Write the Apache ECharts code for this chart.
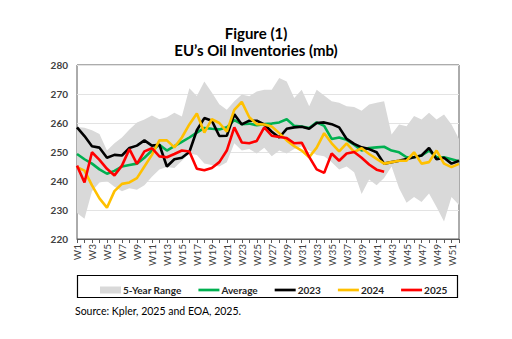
<!DOCTYPE html>
<html>
<head>
<meta charset="utf-8">
<script src="https://cdn.jsdelivr.net/npm/echarts@6/dist/echarts.min.js"></script>
<style>
html,body{margin:0;padding:0;background:#fff;}
#c{width:512px;height:339px;}
</style>
</head>
<body>
<div id="c"></div>
<script>
const weeks = ['W1','W2','W3','W4','W5','W6','W7','W8','W9','W10','W11','W12','W13','W14','W15','W16','W17','W18','W19','W20','W21','W22','W23','W24','W25','W26','W27','W28','W29','W30','W31','W32','W33','W34','W35','W36','W37','W38','W39','W40','W41','W42','W43','W44','W45','W46','W47','W48','W49','W50','W51','W52'];

const rangeLow = [229,227,236.5,239.5,240,238,236.5,237.5,237,238.5,241.5,244,244.8,244.5,247,249.5,249,246,245.5,245,246.5,253,250.5,251,249.5,251.5,248.5,250.5,249.5,251,252,250.5,249,248.5,246.5,244,245,243,235.5,240.5,238.5,241,245,237.5,232.5,234.5,232.8,235.7,231,226,234.5,231.7];

const rangeHigh = [258.6,258.4,257.5,256.2,250.5,253,255,257.8,260.2,261.2,262.6,261.3,262,263.5,262.2,272,269.3,274.3,270.5,266.5,264.6,267.5,269.8,269.2,270.9,271.5,271.5,275.5,274.3,268.6,271.5,265.8,271.5,269.5,267.5,267,265.8,265.5,264.2,266.4,267,267.5,256,259.5,258.9,262.4,261.2,263.5,261.2,262.9,259.5,254.5];

const average = [249.3,247.5,246,244,242.5,243.5,245,245.5,246,248,250.5,252.5,250.5,252,253.5,255,256.7,258.3,258,257.8,258.5,261,259.6,259.8,259.2,259.6,259.8,260.2,261.3,259,258.8,258.3,260.2,259,254.5,255,254.2,252.5,250.5,251.4,251.6,251.8,250.5,249.9,248.2,248.2,248.8,250.5,248.2,248.2,247.5,246.8];

const y2023 = [258.5,255.5,252,251.5,248,249,248.8,251.4,252.2,254,252.2,252.5,245,247.5,248,250,257.5,261.7,260.8,255.5,255.6,263,259.5,260.8,260.8,259.5,257,255,258,258.5,258.7,258,260,260.2,259.6,258.5,254.5,252.8,251.6,251,249.9,246,246.5,247,247.6,248.2,248.8,251.4,247.5,248,246,247];

const y2024 = [244.8,243.6,238.5,234,230.8,236.5,239,239.5,241,245,249,254,254,251.6,255,259.5,263.3,256.7,261.3,260,257,264.5,267.3,262,259.6,259.5,258.8,256.5,254,252,250.5,248.2,251.5,256.5,253,250.2,253,250,251.3,249.3,247.6,246,246.5,247,247,249.9,246,246.5,250.5,246,244.8,245.9];

const y2025 = [245.3,239.5,249.9,247.3,244.2,241.9,245.3,251,245.9,250.2,251.3,248.5,248.2,249.3,250.5,250.2,244.2,243.7,244.5,246.5,250.5,258.5,253.3,253,253.8,258.5,255.6,255.2,254.8,253,253.2,248.3,244,242.8,249.5,247,249.5,250,248,245.7,243.9,243.2];

const yTicks = [220,230,240,250,260,270,280];

const rangeSpan = rangeHigh.map((v,i)=> +(v - rangeLow[i]).toFixed(2));

const FONT = 'Lato';
const LINE_ICON = 'path://M0 0H21V2.7H0Z';
const chart = echarts.init(document.getElementById('c'), null, {renderer:'svg'});

function lineSeries(name, data, color){
  return {
    name: name, type:'line', data: data, symbol:'none', showSymbol:false,
    lineStyle:{color: color, width: 2.6}, itemStyle:{color: color},
    z: 5, animation:false
  };
}

chart.setOption({
  animation:false,
  backgroundColor:'#ffffff',
  textStyle:{fontFamily: FONT},
  grid:{left:77, right:53, top:65, bottom:100, show:true, borderColor:'#595959', borderWidth:1, backgroundColor:'transparent'},
  xAxis:{
    type:'category', data: weeks, boundaryGap:false,
    axisLine:{show:true, lineStyle:{color:'#595959', width:1}},
    axisTick:{show:true, interval:0, length:4, lineStyle:{color:'#595959'}},
    axisLabel:{interval:1, rotate:90, fontSize:10, color:'#404040', fontFamily:FONT, margin:5},
    splitLine:{show:false}
  },
  yAxis:{
    type:'value', min: yTicks[0], max: yTicks[yTicks.length-1], interval:10,
    axisLine:{show:false}, axisTick:{show:false},
    axisLabel:{fontSize:10, color:'#404040', fontWeight:'bold', fontFamily:FONT, margin:9},
    splitLine:{show:true, lineStyle:{color:'#e3e3e3', width:1}}
  },
  legend:{
    data:[
      {name:'5-Year Range', icon:'path://M0 0H18V6H0Z'},
      {name:'Average', icon: LINE_ICON},
      {name:'2023', icon: LINE_ICON},
      {name:'2024', icon: LINE_ICON},
      {name:'2025', icon: LINE_ICON}
    ],
    left: 95, top: 280,
    itemWidth: 21, itemHeight: 8, itemGap: 17,
    textStyle:{fontSize:10, fontWeight:'bold', color:'#262626', fontFamily:FONT, padding:[0,0,0,-3]},
    selectedMode:false
  },
  graphic:[
    {type:'rect', shape:{x:77.5, y:275.5, width:380, height:22}, style:{fill:'none', stroke:'#000', lineWidth:1.2}, silent:true},
    {type:'text', left:'center', top:25, style:{text:'Figure (1)', fontSize:15, fontWeight:'bold', fill:'#000', fontFamily:FONT}},
    {type:'text', left:'center', top:42, style:{text:'EU’s Oil Inventories (mb)', fontSize:15, fontWeight:'bold', fill:'#000', fontFamily:FONT}},
    {type:'text', left:75, top:305, style:{text:'Source: Kpler, 2025 and EOA, 2025.', fontSize:10.5, fill:'#000', fontFamily:FONT}}
  ],
  series:[
    {name:'rangeBase', type:'line', stack:'range', data: rangeLow, symbol:'none', lineStyle:{opacity:0, width:0}, silent:true, z:1},
    {name:'5-Year Range', type:'line', stack:'range', data: rangeSpan, symbol:'none', lineStyle:{opacity:0, width:0},
      areaStyle:{color:'#d9d9d9', opacity:1}, itemStyle:{color:'#d9d9d9'}, silent:true, z:2},
    lineSeries('Average', average, '#00b050'),
    lineSeries('2023', y2023, '#000000'),
    lineSeries('2024', y2024, '#ffc000'),
    lineSeries('2025', y2025, '#ff0000')
  ]
});
</script>
</body>
</html>
